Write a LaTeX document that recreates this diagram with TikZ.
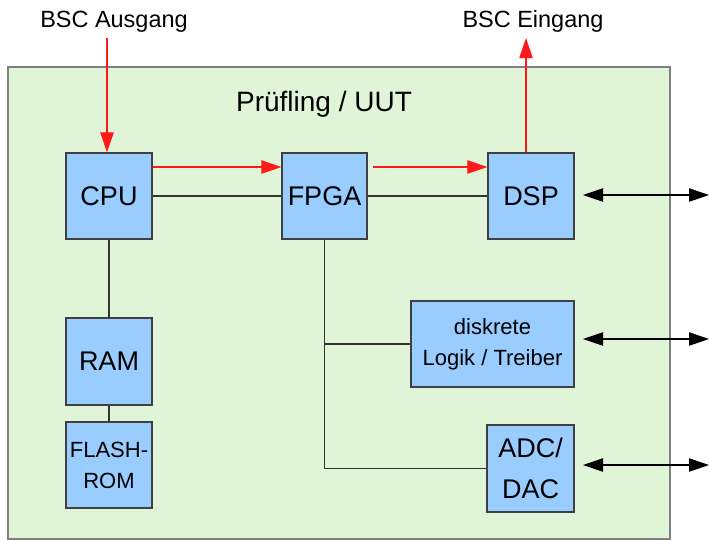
\documentclass[tikz,border=0pt]{standalone}
\usepackage{fontspec}
\setmainfont{Liberation Sans}
\usetikzlibrary{arrows.meta}
\definecolor{boxblue}{HTML}{99CCFF}
\definecolor{uutgreen}{HTML}{E0F4D8}
\definecolor{uutborder}{HTML}{808080}
\definecolor{boxborder}{HTML}{404040}
\definecolor{wire}{HTML}{333333}
\definecolor{sigred}{HTML}{FF1A1A}
\tikzset{
  blk/.style={draw=boxborder, fill=boxblue, line width=0.9pt, inner sep=0pt, align=center},
  bigtxt/.style={font=\fontsize{20.25}{30.75}\selectfont},
  smalltxt/.style={font=\fontsize{16.5}{23.25}\selectfont},
  wireline/.style={draw=wire, line width=0.8pt},
  redarrow/.style={draw=sigred, line width=0.8pt, -{Triangle[length=15pt,width=10pt]}},
  bidir/.style={draw=black, line width=0.8pt, {Triangle[length=15pt,width=10pt]}-{Triangle[length=15pt,width=10pt]}},
}
\begin{document}
\begin{tikzpicture}[x=0.75pt,y=-0.75pt]
\useasboundingbox (0,0) rectangle (709,540);
% outer UUT box
\node[draw=uutborder, fill=uutgreen, line width=1.2pt, minimum width=662*0.75pt, minimum height=472*0.75pt, inner sep=0pt] (uut) at (339,303) {};
\node[font=\fontsize{21}{25}\selectfont, anchor=base, inner sep=0pt] (title) at (324,111) {Prüfling / UUT};
% labels on top
\node[font=\fontsize{17.6}{21}\selectfont, anchor=base, inner sep=0pt] (aus) at (114,27) {BSC Ausgang};
\node[font=\fontsize{17.6}{21}\selectfont, anchor=base, inner sep=0pt] (ein) at (533,27) {BSC Eingang};
% blocks
\node[blk, bigtxt, minimum width=86*0.75pt, minimum height=86*0.75pt] (cpu) at (109,196) {CPU};
\node[blk, bigtxt, minimum width=85*0.75pt, minimum height=86*0.75pt] (fpga) at (324.5,196) {FPGA};
\node[blk, bigtxt, minimum width=86*0.75pt, minimum height=86*0.75pt] (dsp) at (531,196) {DSP};
\node[blk, bigtxt, minimum width=86*0.75pt, minimum height=87*0.75pt] (ram) at (109,361.5) {RAM};
\node[blk, smalltxt, minimum width=86*0.75pt, minimum height=86*0.75pt] (flash) at (109,465) {FLASH-\\ROM};
\node[blk, smalltxt, minimum width=163*0.75pt, minimum height=86*0.75pt] (logik) at (492.5,344) {diskrete\\Logik / Treiber};
\node[blk, bigtxt, minimum width=87*0.75pt, minimum height=87*0.75pt] (adc) at (530.5,468.5) {ADC/\\DAC};
% black wiring
\draw[wireline] (cpu.east) -- (fpga.west);
\draw[wireline] (fpga.east) -- (dsp.west);
\draw[wireline] (cpu.south) -- (ram.north);
\draw[wireline] (ram.south) -- (flash.north);
\draw[wireline] (fpga.south) -- (fpga.south |- adc.west) -- (adc.west);
\draw[wireline] (fpga.south |- logik.west) -- (logik.west);
% red boundary scan chain
\coordinate (ausin) at (107,38);
\coordinate (einout) at (526,38);
\draw[redarrow] (ausin) -- (ausin |- cpu.north);
\draw[redarrow] (cpu.east |- 0,167) -- (fpga.west |- 0,167);
\draw[redarrow] (373,167) coordinate (fpgaout) -- (dsp.west |- fpgaout);
\draw[redarrow] (einout |- dsp.north) -- (einout);
% external I/O
\coordinate (dspR) at (709,195);
\coordinate (logR) at (709,339);
\coordinate (adcR) at (709,465);
\draw[bidir] (583,195) -- (dspR);
\draw[bidir] (583,339) -- (logR);
\draw[bidir] (583,465) -- (adcR);
\end{tikzpicture}
\end{document}
